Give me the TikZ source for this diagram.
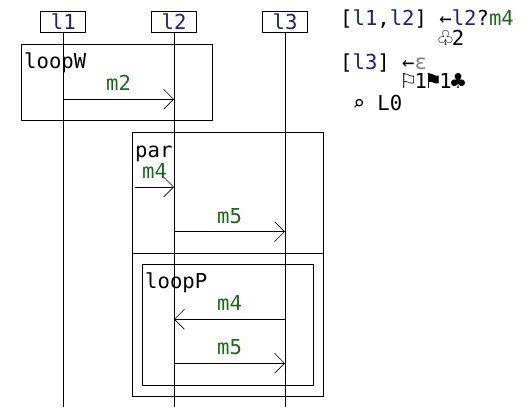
\documentclass[tikz,border=0pt]{standalone}
\usepackage{fontspec}
\setmainfont{DejaVu Sans Mono}
\newfontfamily\symfont{DejaVu Sans}
\usetikzlibrary{arrows.meta,calc}
\definecolor{lifeblue}{RGB}{30,30,140}
\definecolor{msggreen}{RGB}{25,105,25}
\newcommand{\symcol}[1]{\makebox[12.4pt][c]{\symfont #1}}

\begin{document}
\begin{tikzpicture}[
            x=1pt, y=-1pt,
            font=\fontsize{20.6}{24}\selectfont,
            lifebox/.style={rectangle, draw, line width=0.9pt, minimum width=45pt, minimum height=21.3pt, inner sep=0pt, text=lifeblue},
            frame/.style={rectangle, draw, line width=0.9pt, inner sep=0pt},
            lifeline/.style={line width=0.9pt},
            msg/.style={-{Straight Barb[length=10pt, width=20pt, line width=0.6pt]}, line width=0.9pt},
            msglabel/.style={midway, anchor=base, inner sep=0pt, yshift=8.5pt, text=msggreen},
            framelabel/.style={anchor=base west, inner sep=0pt},
            statetext/.style={anchor=base west, inner sep=0pt}
        ]
            \useasboundingbox (0,0) rectangle (530,418);

            % Lifelines
            \node[lifebox] (l1) at (63.3,21.7) {\raisebox{-1.5pt}{l1}};
            \node[lifebox] (l2) at (174,21.7) {\raisebox{-1.5pt}{l2}};
            \node[lifebox] (l3) at (285,21.7) {\raisebox{-1.5pt}{l3}};
            \coordinate (bottom) at (0,406.7);
            \draw[lifeline] (l1.south) -- (l1 |- bottom);
            \draw[lifeline] (l2.south) -- (l2 |- bottom);
            \draw[lifeline] (l3.south) -- (l3 |- bottom);

            % Frames
            \node[frame, minimum width=190.6pt, minimum height=76.4pt] (loopW) at (117,82.5) {};
            \node[frame, minimum width=190.6pt, minimum height=263.3pt] (par) at (228,264.3) {};
            \node[frame, minimum width=171pt, minimum height=121pt] (loopP) at (227.8,324.8) {};
            \coordinate (divider) at (0,253.3);
            \draw[lifeline] (par.west |- divider) -- (par.east |- divider);
            \node[framelabel] at (24,68) {loopW};
            \node[framelabel] at (135,157) {par};
            \node[framelabel] at (145,288) {loopP};

            % Messages
            \coordinate (y1) at (0,99.3);
            \coordinate (parin) at (135,187);
            \coordinate (y3) at (0,231.7);
            \coordinate (y4) at (0,319.3);
            \coordinate (y5) at (0,363.3);
            \draw[msg] (l1 |- y1) -- node[msglabel] {m2} (l2 |- y1);
            \draw[msg] (parin) -- node[msglabel] {m4} (l2 |- parin);
            \draw[msg] (l2 |- y3) -- node[msglabel] {m5} (l3 |- y3);
            \draw[msg] (l3 |- y4) -- node[msglabel] {m4} (l2 |- y4);
            \draw[msg] (l2 |- y5) -- node[msglabel] {m5} (l3 |- y5);

            % State
            \node[statetext] (st1) at (340,25.5) {[\textcolor{lifeblue}{l1},\textcolor{lifeblue}{l2}] ←\textcolor{lifeblue}{l2}?\textcolor{msggreen}{m4}};
            \node[statetext] (st2) at (439.2,45) {\symcol{♧}2};
            \node[statetext] (st3) at (340,69.5) {[\textcolor{lifeblue}{l3}] ←\textcolor{gray}{ε}};
            \node[statetext] (st4) at (402,88.5) {\symcol{⚐}1\symcol{⚑}1\symcol{♣}};
            \node[statetext] (st5) at (352.4,110) {⌕ L0};
        \end{tikzpicture}
\end{document}
